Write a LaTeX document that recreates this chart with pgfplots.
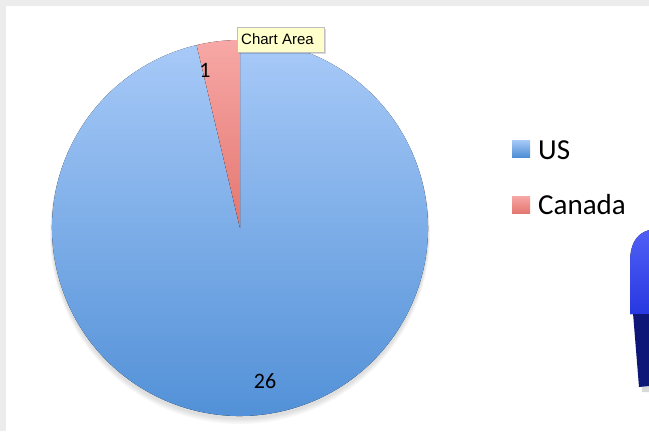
\documentclass[border=0pt]{standalone}
\usepackage{pgfplots}
\usepackage{pgfplotstable}
\pgfplotsset{compat=1.18}
\usepackage{fontspec}
\setmainfont{Carlito}
\newfontfamily\tipfont{Liberation Sans}

\definecolor{usTop}{RGB}{168,202,248}
\definecolor{usBot}{RGB}{78,142,214}
\definecolor{caTop}{RGB}{247,168,166}
\definecolor{caBot}{RGB}{228,118,112}
\definecolor{tipFill}{RGB}{255,255,204}
\definecolor{bgGray}{RGB}{236,236,236}
\definecolor{objTop}{RGB}{80,96,245}
\definecolor{objMid}{RGB}{40,56,225}
\definecolor{objDark}{RGB}{14,22,120}

\pgfplotstableread{
country value
US      26
Canada  1
}\piedata

\pgfplotstablegetelem{0}{value}\of\piedata \let\vUS\pgfplotsretval
\pgfplotstablegetelem{1}{value}\of\piedata \let\vCA\pgfplotsretval
\pgfmathsetmacro\aCA{360*\vCA/(\vUS+\vCA)}
\pgfmathsetmacro\aEnd{90+\aCA}

\begin{document}
\begin{tikzpicture}
\begin{axis}[
  width=649pt, height=431pt, scale only axis,
  xmin=0, xmax=649, ymin=0, ymax=431, y dir=reverse,
  axis lines=none, clip=false,
]
% background
\fill[bgGray] (axis cs:0,0) rectangle (axis cs:649,431);
\fill[white] (axis cs:6,6) rectangle (axis cs:649,431);

% soft shadow under pie (mostly at the bottom)
\fill[black, opacity=0.03] (axis cs:240,231) circle[radius=188.5pt];
\fill[black, opacity=0.03] (axis cs:240,232) circle[radius=189pt];
\fill[black, opacity=0.03] (axis cs:240,233) circle[radius=189.5pt];
\fill[black, opacity=0.03] (axis cs:240,234) circle[radius=190pt];

% US slice
\fill[top color=usTop, bottom color=usBot]
  (axis cs:240,228) -- ++(\aEnd:188pt) arc[start angle=\aEnd, end angle=450, radius=188pt] -- cycle;
% Canada slice
\fill[top color=caTop, bottom color=caBot]
  (axis cs:240,228) -- ++(90:188pt) arc[start angle=90, end angle=\aEnd, radius=188pt] -- cycle;

% data labels
\node[font=\fontsize{22}{24}\selectfont] at (axis cs:205,70) {\vCA};
\node[font=\fontsize{22}{24}\selectfont] at (axis cs:265,381) {\vUS};

% legend
\fill[top color=usTop, bottom color=usBot] (axis cs:512,140) rectangle (axis cs:530,157);
\fill[top color=caTop, bottom color=caBot] (axis cs:512,196) rectangle (axis cs:530,213);
\node[anchor=base west, font=\fontsize{29}{32}\selectfont, inner sep=0pt] at (axis cs:538,159) {US};
\node[anchor=base west, font=\fontsize{29}{32}\selectfont, inner sep=0pt] at (axis cs:538,214) {Canada};

% tooltip
\fill[black, opacity=0.15] (axis cs:239,29) rectangle (axis cs:326,54);
\filldraw[fill=tipFill, draw=black!25, line width=0.6pt] (axis cs:237,27) rectangle (axis cs:324,52);
\node[anchor=west, font=\tipfont\fontsize{15}{16}\selectfont, inner sep=0pt] at (axis cs:241,39.5) {Chart Area};

% partial 3D object at right edge
\fill[black, opacity=0.15] (axis cs:636,318) -- (axis cs:642,392) -- (axis cs:649,392) -- (axis cs:649,318) -- cycle;
\fill[objDark] (axis cs:633,313) -- (axis cs:639,387) -- (axis cs:649,386) -- (axis cs:649,313) -- cycle;
\fill[top color=objTop, bottom color=objMid]
  (axis cs:630,314) -- (axis cs:630,262) .. controls (axis cs:630,245) and (axis cs:636,236) .. (axis cs:644,232)
  -- (axis cs:649,230) -- (axis cs:649,314) -- cycle;
\end{axis}
\end{tikzpicture}
\end{document}
